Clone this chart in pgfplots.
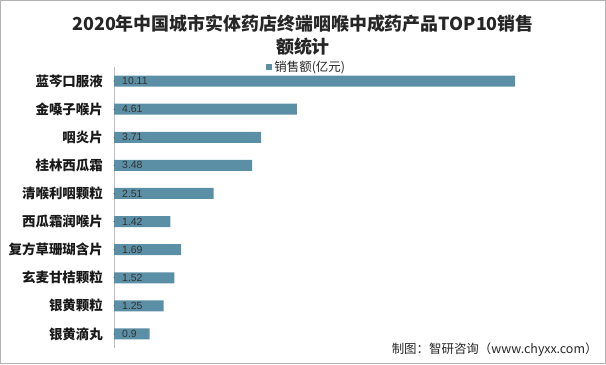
\documentclass[border=0pt]{standalone}
\usepackage{fontspec}
\setmainfont{Liberation Sans}
\newfontfamily\cjk{Noto Sans CJK SC}
\usepackage{pgfplots}
\pgfplotsset{compat=1.18}
\definecolor{barblue}{RGB}{91,143,166}
\definecolor{labgray}{RGB}{51,51,51}
\begin{document}
\begin{tikzpicture}[x=1bp,y=1bp]
\draw[gray!60, line width=1bp] (0.5,-0.5) rectangle (605.5,-363.5);
\node[font=\cjk\bfseries\fontsize{18}{20}\selectfont, text=black!85] at (303,-24) {2020年中国城市实体药店终端咽喉中成药产品TOP10销售};
\node[font=\cjk\bfseries\fontsize{18}{20}\selectfont, text=black!85] at (303,-47) {额统计};
\begin{axis}[
  at={(114bp,-67bp)}, anchor=north west,
  scale only axis, width=401bp, height=281bp,
  xmin=0, xmax=10.11,
  ymin=-0.5, ymax=9.5, y dir=reverse,
  axis x line=none,
  axis y line=left,
  y axis line style={-, draw=black!25, line width=0.8bp},
  ytick={0,...,9},
  yticklabels={蓝芩口服液,金嗓子喉片,咽炎片,桂林西瓜霜,清喉利咽颗粒,西瓜霜润喉片,复方草珊瑚含片,玄麦甘桔颗粒,银黄颗粒,银黄滴丸},
  yticklabel style={font=\cjk\bfseries\fontsize{13.5}{14}\selectfont, text=black!90, inner sep=0pt, xshift=-11bp},
  major tick length=0pt,
  ytick style={draw=none},
  bar width=11bp,
  legend style={at={(0.48,1)}, anchor=center, draw=none, fill=none,
    font=\cjk\fontsize{12.5}{13}\selectfont, text=black!85, inner sep=1pt},
  legend image code/.code={\fill[#1] (0bp,-3bp) rectangle (6.5bp,3.5bp);},
  clip=false,
]
\addplot[xbar, fill=barblue, draw=none] coordinates {
 (10.11,0) (4.61,1) (3.71,2) (3.48,3) (2.51,4) (1.42,5) (1.69,6) (1.52,7) (1.25,8) (0.9,9)};
\addlegendentry{销售额(亿元)}
\addplot[forget plot, only marks, mark=*, mark size=0.1pt, mark options={draw=none, fill=none},
  nodes near coords, point meta=explicit symbolic,
  nodes near coords style={anchor=west, inner sep=0pt, xshift=8bp, font=\fontsize{10.5}{11}\selectfont, text=labgray}]
  table[x=x, y=y, meta=lab] {
x y lab
0 0 10.11
0 1 4.61
0 2 3.71
0 3 3.48
0 4 2.51
0 5 1.42
0 6 1.69
0 7 1.52
0 8 1.25
0 9 0.9
};
\end{axis}
\node[anchor=east, font=\cjk\fontsize{12.5}{13}\selectfont, text=black!85] at (601,-350) {制图：智研咨询（www.chyxx.com）};
\end{tikzpicture}
\end{document}
